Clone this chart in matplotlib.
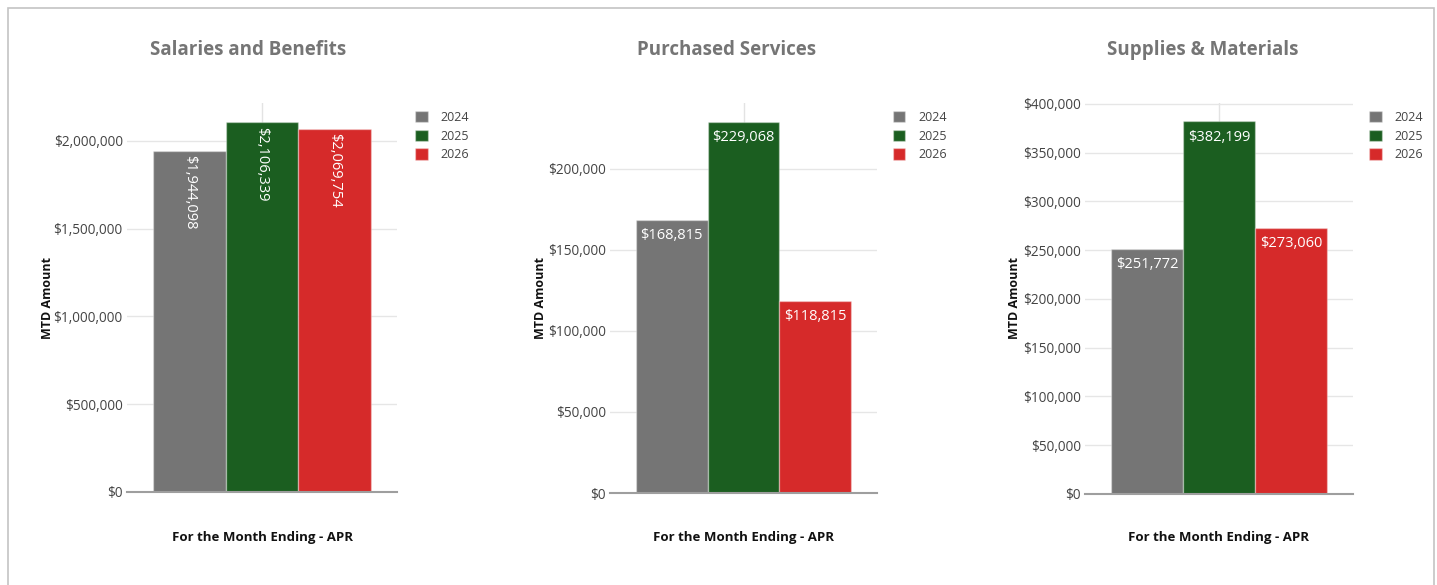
import matplotlib.pyplot as plt
from matplotlib.patches import Rectangle, Patch
from matplotlib.ticker import FuncFormatter

plt.rcParams['font.family'] = ['Open Sans', 'DejaVu Sans']

# data
titles = ['Salaries and Benefits', 'Purchased Services', 'Supplies & Materials']
years = ['2024', '2025', '2026']
salaries = [1944098, 2106339, 2069754]
purchased = [168815, 229068, 118815]
supplies = [251772, 382199, 273060]
y_ticks_sal = [0, 500000, 1000000, 1500000, 2000000]
y_ticks_pur = [0, 50000, 100000, 150000, 200000]
y_ticks_sup = [0, 50000, 100000, 150000, 200000, 250000, 300000, 350000, 400000]
x_label = 'For the Month Ending - APR'
y_label = 'MTD Amount'

colors = ['#757575', '#1b5e20', '#d62a2a']

W, H = 1437, 585
fig = plt.figure(figsize=(W / 100, H / 100), dpi=100)

# outer border
fig.patches.append(Rectangle((8 / W, -0.1), (1434 - 8) / W, 1.1 - 8 / H,
                             transform=fig.transFigure, fill=False,
                             edgecolor='#c4c4c4', linewidth=1.2))

panels = [
    # values, ticks, ylim top, axes px (left, right, bottom, top), title x, ylabel x, legend x
    (salaries, y_ticks_sal, 2216500, (127, 397, 492, 103), 248, 48, 415, True),
    (purchased, y_ticks_pur, 240740, (610, 877, 493, 103), 727, 540, 893, False),
    (supplies, y_ticks_sup, 401000, (1085, 1353, 494, 103), 1203, 1015, 1369, False),
]

bw = 0.269
offsets = [-bw, 0, bw]

for (vals, ticks, ytop, box, tx, yx, lx, rotate), title in zip(panels, titles):
    l, r, b, t = box
    ax = fig.add_axes([l / W, 1 - b / H, (r - l) / W, (b - t) / H])
    ax.set_xlim(-0.5, 0.5)
    ax.set_ylim(0, ytop)
    ax.axvline(0, color='#e3e3e3', linewidth=1, zorder=0)
    for off, v, c, yr in zip(offsets, vals, colors, years):
        ax.bar(off, v, width=bw, color=c, edgecolor=(1, 1, 1, 0.35),
               linewidth=1, zorder=2)
        lbl = f'${v:,.0f}'
        if rotate:
            ax.annotate(lbl, (off, v), xytext=(0, -3), textcoords='offset points',
                        ha='center', va='top', rotation=270, color='white',
                        fontsize=10.5, zorder=3)
        else:
            ax.annotate(lbl, (off, v), xytext=(0, -6), textcoords='offset points',
                        ha='center', va='top', color='white',
                        fontsize=10.5, zorder=3)
    ax.set_yticks(ticks)
    ax.yaxis.set_major_formatter(FuncFormatter(lambda x, p: f'${x:,.0f}'))
    ax.set_xticks([])
    ax.grid(axis='y', color='#e6e6e6', linewidth=1)
    ax.set_axisbelow(True)
    for s in ['top', 'right', 'left']:
        ax.spines[s].set_visible(False)
    ax.spines['bottom'].set_color('#9e9e9e')
    ax.spines['bottom'].set_linewidth(1.5)
    ax.tick_params(axis='y', length=0, pad=3, labelsize=9.8, labelcolor='#444444')

    fig.text(tx / W, 1 - 50 / H, title, ha='center', va='center',
             fontsize=13.5, fontweight='bold', color='#757575')
    fig.text(yx / W, 1 - 298 / H, y_label, ha='center', va='center', rotation=90,
             fontsize=9, fontweight='bold', color='#111111')
    fig.text((l + r) / 2 / W, 1 - 538 / H, x_label, ha='center', va='center',
             fontsize=9.5, fontweight='bold', color='#111111')

    handles = [Patch(facecolor=c, edgecolor=(1, 1, 1, 0.35)) for c in colors]
    ax.legend(handles, years, loc='upper left', bbox_to_anchor=(lx / W, 1 - 111 / H),
              bbox_transform=fig.transFigure, frameon=False, fontsize=9,
              handlelength=1.0, handleheight=1.0, handletextpad=1.0,
              labelspacing=0.45, borderaxespad=0, borderpad=0,
              labelcolor='#444444')

fig.savefig('out.png', dpi=100, facecolor='white')
